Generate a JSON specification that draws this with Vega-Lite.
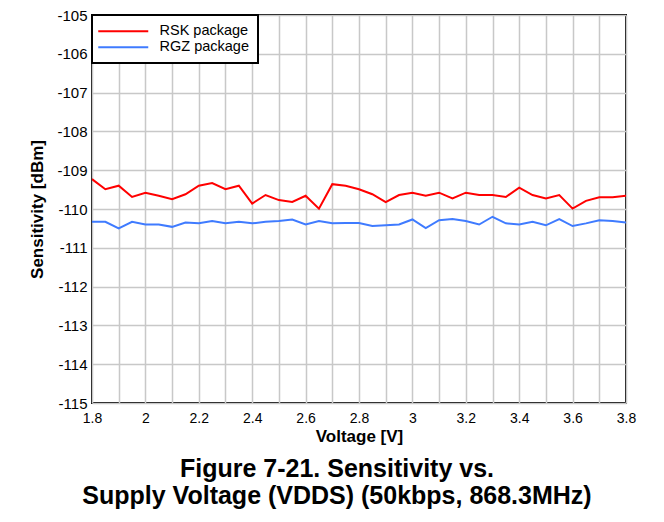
{
  "$schema": "https://vega.github.io/schema/vega-lite/v6.json",
  "width": 534,
  "height": 388,
  "autosize": {"type": "none"},
  "padding": {"left": 92, "top": 15, "right": 38, "bottom": 119},
  "background": "white",
  "config": {
    "font": "Liberation Sans",
    "view": {"stroke": "black", "strokeWidth": 2},
    "axis": {
      "domain": false,
      "ticks": false,
      "gridColor": "#c8c8c8",
      "gridWidth": 1.5,
      "labelFont": "Liberation Sans",
      "labelColor": "black",
      "titleFont": "Liberation Sans",
      "titleFontSize": 17,
      "titleFontWeight": "bold",
      "titleColor": "black"
    }
  },
  "title": {
    "text": ["Figure 7-21. Sensitivity vs.", "Supply Voltage (VDDS) (50kbps, 868.3MHz)"],
    "orient": "bottom",
    "anchor": "middle",
    "frame": "group",
    "dx": -22,
    "offset": 13,
    "font": "Liberation Sans",
    "fontSize": 25,
    "fontWeight": "bold",
    "lineHeight": 27,
    "color": "black"
  },
  "data": {
    "values": [
      {"v": 1.80, "pkg": "RSK package", "s": -109.23},
      {"v": 1.85, "pkg": "RSK package", "s": -109.49},
      {"v": 1.90, "pkg": "RSK package", "s": -109.40},
      {"v": 1.95, "pkg": "RSK package", "s": -109.69},
      {"v": 2.00, "pkg": "RSK package", "s": -109.58},
      {"v": 2.05, "pkg": "RSK package", "s": -109.66},
      {"v": 2.10, "pkg": "RSK package", "s": -109.75},
      {"v": 2.15, "pkg": "RSK package", "s": -109.62},
      {"v": 2.20, "pkg": "RSK package", "s": -109.40},
      {"v": 2.25, "pkg": "RSK package", "s": -109.33},
      {"v": 2.30, "pkg": "RSK package", "s": -109.49},
      {"v": 2.35, "pkg": "RSK package", "s": -109.40},
      {"v": 2.40, "pkg": "RSK package", "s": -109.86},
      {"v": 2.45, "pkg": "RSK package", "s": -109.64},
      {"v": 2.50, "pkg": "RSK package", "s": -109.77},
      {"v": 2.55, "pkg": "RSK package", "s": -109.82},
      {"v": 2.60, "pkg": "RSK package", "s": -109.66},
      {"v": 2.65, "pkg": "RSK package", "s": -109.99},
      {"v": 2.70, "pkg": "RSK package", "s": -109.36},
      {"v": 2.75, "pkg": "RSK package", "s": -109.40},
      {"v": 2.80, "pkg": "RSK package", "s": -109.49},
      {"v": 2.85, "pkg": "RSK package", "s": -109.62},
      {"v": 2.90, "pkg": "RSK package", "s": -109.82},
      {"v": 2.95, "pkg": "RSK package", "s": -109.64},
      {"v": 3.00, "pkg": "RSK package", "s": -109.58},
      {"v": 3.05, "pkg": "RSK package", "s": -109.66},
      {"v": 3.10, "pkg": "RSK package", "s": -109.58},
      {"v": 3.15, "pkg": "RSK package", "s": -109.73},
      {"v": 3.20, "pkg": "RSK package", "s": -109.58},
      {"v": 3.25, "pkg": "RSK package", "s": -109.64},
      {"v": 3.30, "pkg": "RSK package", "s": -109.64},
      {"v": 3.35, "pkg": "RSK package", "s": -109.69},
      {"v": 3.40, "pkg": "RSK package", "s": -109.45},
      {"v": 3.45, "pkg": "RSK package", "s": -109.64},
      {"v": 3.50, "pkg": "RSK package", "s": -109.73},
      {"v": 3.55, "pkg": "RSK package", "s": -109.64},
      {"v": 3.60, "pkg": "RSK package", "s": -109.99},
      {"v": 3.65, "pkg": "RSK package", "s": -109.79},
      {"v": 3.70, "pkg": "RSK package", "s": -109.70},
      {"v": 3.75, "pkg": "RSK package", "s": -109.70},
      {"v": 3.80, "pkg": "RSK package", "s": -109.66},
      {"v": 1.80, "pkg": "RGZ package", "s": -110.33},
      {"v": 1.85, "pkg": "RGZ package", "s": -110.33},
      {"v": 1.90, "pkg": "RGZ package", "s": -110.50},
      {"v": 1.95, "pkg": "RGZ package", "s": -110.33},
      {"v": 2.00, "pkg": "RGZ package", "s": -110.40},
      {"v": 2.05, "pkg": "RGZ package", "s": -110.40},
      {"v": 2.10, "pkg": "RGZ package", "s": -110.46},
      {"v": 2.15, "pkg": "RGZ package", "s": -110.35},
      {"v": 2.20, "pkg": "RGZ package", "s": -110.37},
      {"v": 2.25, "pkg": "RGZ package", "s": -110.31},
      {"v": 2.30, "pkg": "RGZ package", "s": -110.37},
      {"v": 2.35, "pkg": "RGZ package", "s": -110.33},
      {"v": 2.40, "pkg": "RGZ package", "s": -110.37},
      {"v": 2.45, "pkg": "RGZ package", "s": -110.33},
      {"v": 2.50, "pkg": "RGZ package", "s": -110.31},
      {"v": 2.55, "pkg": "RGZ package", "s": -110.27},
      {"v": 2.60, "pkg": "RGZ package", "s": -110.40},
      {"v": 2.65, "pkg": "RGZ package", "s": -110.31},
      {"v": 2.70, "pkg": "RGZ package", "s": -110.37},
      {"v": 2.75, "pkg": "RGZ package", "s": -110.36},
      {"v": 2.80, "pkg": "RGZ package", "s": -110.36},
      {"v": 2.85, "pkg": "RGZ package", "s": -110.44},
      {"v": 2.90, "pkg": "RGZ package", "s": -110.42},
      {"v": 2.95, "pkg": "RGZ package", "s": -110.40},
      {"v": 3.00, "pkg": "RGZ package", "s": -110.27},
      {"v": 3.05, "pkg": "RGZ package", "s": -110.49},
      {"v": 3.10, "pkg": "RGZ package", "s": -110.29},
      {"v": 3.15, "pkg": "RGZ package", "s": -110.26},
      {"v": 3.20, "pkg": "RGZ package", "s": -110.31},
      {"v": 3.25, "pkg": "RGZ package", "s": -110.40},
      {"v": 3.30, "pkg": "RGZ package", "s": -110.20},
      {"v": 3.35, "pkg": "RGZ package", "s": -110.37},
      {"v": 3.40, "pkg": "RGZ package", "s": -110.40},
      {"v": 3.45, "pkg": "RGZ package", "s": -110.33},
      {"v": 3.50, "pkg": "RGZ package", "s": -110.42},
      {"v": 3.55, "pkg": "RGZ package", "s": -110.26},
      {"v": 3.60, "pkg": "RGZ package", "s": -110.44},
      {"v": 3.65, "pkg": "RGZ package", "s": -110.37},
      {"v": 3.70, "pkg": "RGZ package", "s": -110.29},
      {"v": 3.75, "pkg": "RGZ package", "s": -110.31},
      {"v": 3.80, "pkg": "RGZ package", "s": -110.35}
    ]
  },
  "mark": {"type": "line", "strokeWidth": 2, "clip": true},
  "encoding": {
    "x": {
      "field": "v",
      "type": "quantitative",
      "title": "Voltage [V]",
      "scale": {"domain": [1.8, 3.8], "nice": false, "zero": false},
      "axis": {
        "values": [1.8, 1.9, 2.0, 2.1, 2.2, 2.3, 2.4, 2.5, 2.6, 2.7, 2.8, 2.9, 3.0, 3.1, 3.2, 3.3, 3.4, 3.5, 3.6, 3.7, 3.8],
        "format": "~g",
        "labelExpr": "round(datum.value*10) % 2 == 0 ? datum.label : ''",
        "labelFlush": false,
        "labelFontSize": 14,
        "labelPadding": 8,
        "titlePadding": 3
      }
    },
    "y": {
      "field": "s",
      "type": "quantitative",
      "title": "Sensitivity [dBm]",
      "scale": {"domain": [-115, -105], "nice": false, "zero": false},
      "axis": {
        "values": [-115, -114, -113, -112, -111, -110, -109, -108, -107, -106, -105],
        "labelExpr": "'' + datum.value",
        "labelFlush": false,
        "labelFontSize": 15,
        "labelPadding": 5,
        "titlePadding": 10
      }
    },
    "color": {
      "field": "pkg",
      "type": "nominal",
      "sort": ["RSK package", "RGZ package"],
      "scale": {"domain": ["RSK package", "RGZ package"], "range": ["#ff0000", "#3f7bff"]},
      "legend": {
        "title": null,
        "orient": "top-left",
        "offset": 0,
        "strokeColor": "black",
        "fillColor": "white",
        "padding": 9,
        "symbolType": "M-2,0H8",
        "symbolSize": 100,
        "symbolStrokeWidth": 2,
        "labelFont": "Liberation Sans",
        "labelFontSize": 14.5,
        "labelColor": "black",
        "labelOffset": 44,
        "rowPadding": 1,
        "encode": {"legend": {"update": {"strokeWidth": {"value": 2}}}}
      }
    }
  }
}
